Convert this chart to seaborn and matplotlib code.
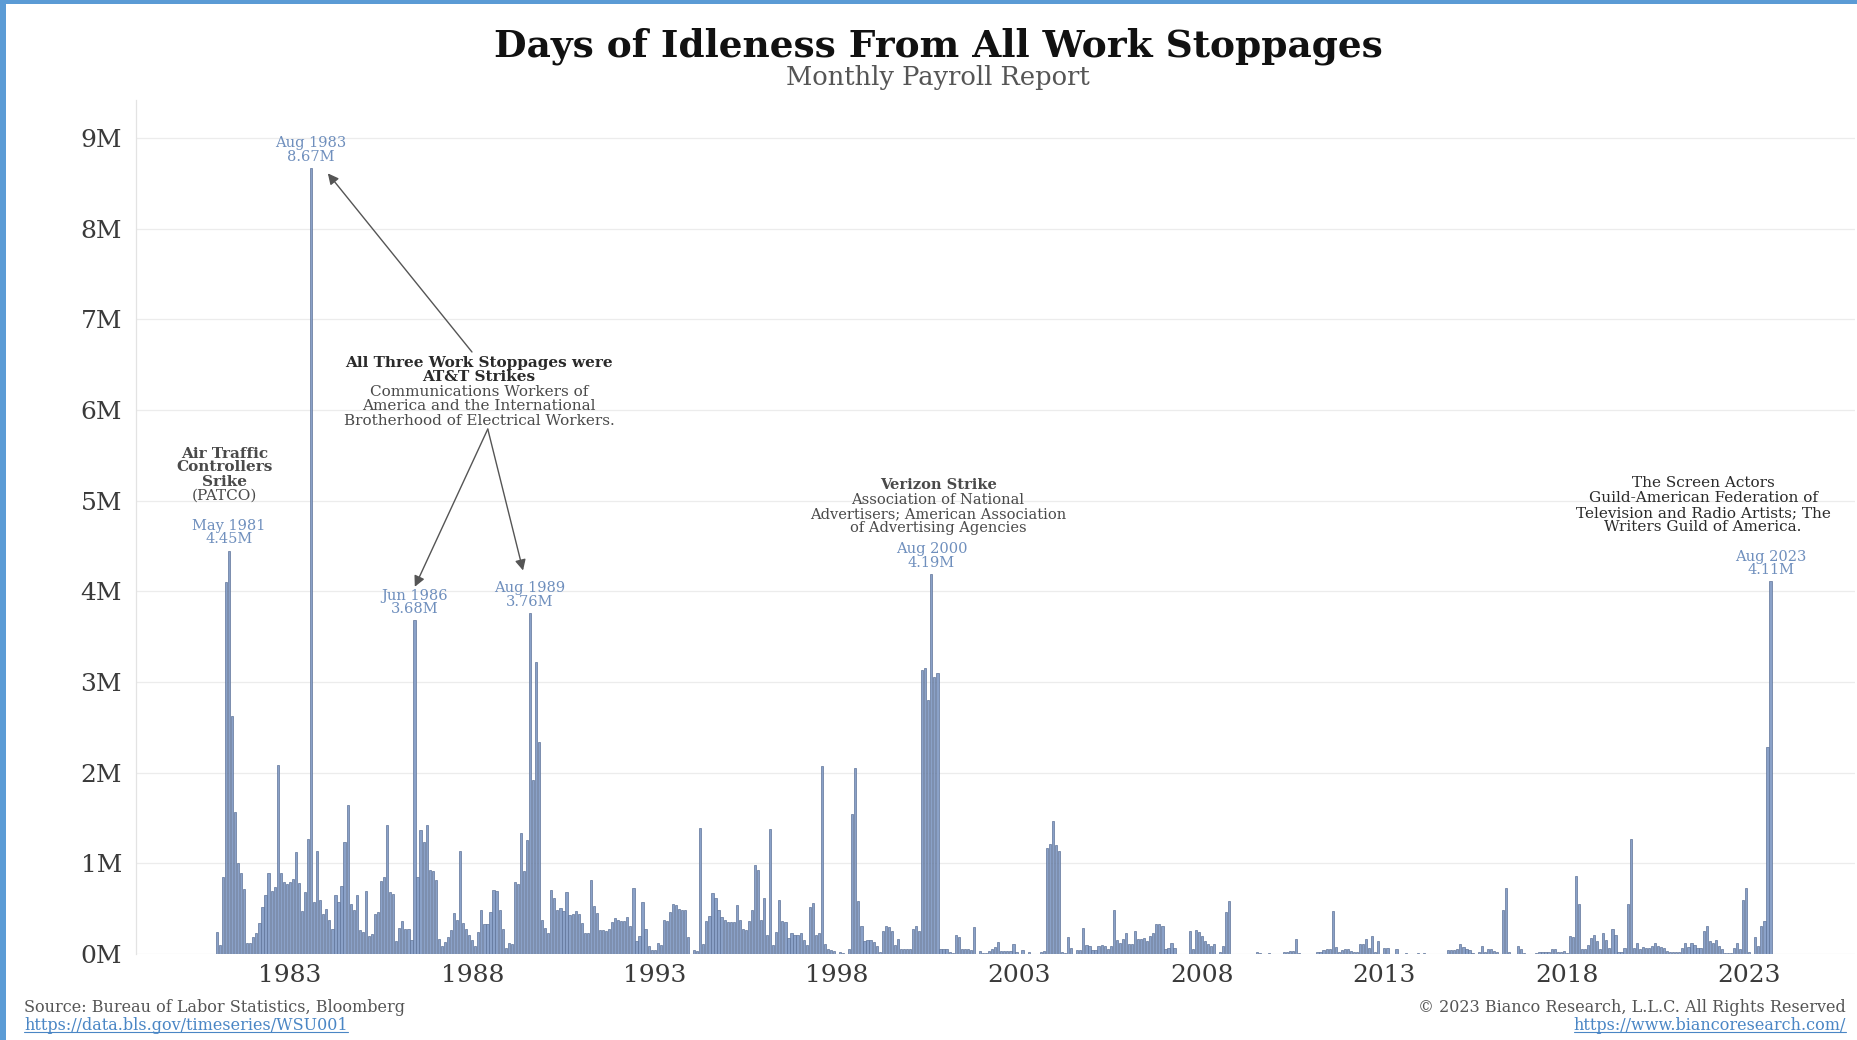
import numpy as np
import pandas as pd
import matplotlib
matplotlib.use("Agg")
import matplotlib.pyplot as plt
from matplotlib.patches import Rectangle
from matplotlib.lines import Line2D
import seaborn as sns

# Days of idleness from all work stoppages, millions of days, monthly from Jan 1981
y1981 = [0.24, 0.10, 0.85, 4.10, 4.45, 2.63, 1.57, 1.00, 0.89, 0.72, 0.12, 0.12]
y1982 = [0.19, 0.23, 0.34, 0.52, 0.65, 0.89, 0.70, 0.74, 2.09, 0.89, 0.79, 0.77]
y1983 = [0.79, 0.83, 1.13, 0.78, 0.47, 0.68, 1.27, 8.67, 0.57, 1.14, 0.60, 0.44]
y1984 = [0.50, 0.37, 0.28, 0.65, 0.57, 0.75, 1.23, 1.64, 0.55, 0.48, 0.65, 0.27]
y1985 = [0.24, 0.69, 0.20, 0.22, 0.44, 0.46, 0.80, 0.85, 1.42, 0.68, 0.66, 0.14]
y1986 = [0.29, 0.36, 0.28, 0.28, 0.15, 3.68, 0.85, 1.37, 1.23, 1.42, 0.93, 0.92]
y1987 = [0.82, 0.17, 0.085, 0.13, 0.19, 0.26, 0.45, 0.37, 1.14, 0.34, 0.28, 0.21]
y1988 = [0.15, 0.09, 0.24, 0.49, 0.33, 0.33, 0.46, 0.71, 0.70, 0.49, 0.28, 0.07]
y1989 = [0.12, 0.11, 0.79, 0.77, 1.33, 0.91, 1.26, 3.76, 1.92, 3.22, 2.34, 0.37]
y1990 = [0.29, 0.23, 0.71, 0.62, 0.49, 0.51, 0.47, 0.68, 0.43, 0.44, 0.47, 0.44]
y1991 = [0.34, 0.23, 0.23, 0.82, 0.53, 0.45, 0.26, 0.26, 0.25, 0.28, 0.35, 0.40]
y1992 = [0.38, 0.36, 0.36, 0.41, 0.31, 0.73, 0.14, 0.20, 0.57, 0.28, 0.09, 0.04]
y1993 = [0.04, 0.12, 0.10, 0.38, 0.36, 0.46, 0.55, 0.54, 0.50, 0.49, 0.49, 0.19]
y1994 = [0.00, 0.04, 0.03, 1.39, 0.11, 0.36, 0.42, 0.67, 0.62, 0.49, 0.41, 0.37]
y1995 = [0.35, 0.35, 0.35, 0.54, 0.38, 0.28, 0.27, 0.36, 0.49, 0.98, 0.93, 0.38]
y1996 = [0.62, 0.21, 1.38, 0.10, 0.24, 0.60, 0.36, 0.35, 0.18, 0.23, 0.21, 0.21]
y1997 = [0.23, 0.15, 0.10, 0.52, 0.56, 0.21, 0.23, 2.07, 0.11, 0.05, 0.04, 0.03]
y1998 = [0.00, 0.02, 0.01, 0.00, 0.06, 1.54, 2.05, 0.58, 0.31, 0.14, 0.15, 0.15]
y1999 = [0.13, 0.09, 0.02, 0.25, 0.31, 0.30, 0.25, 0.10, 0.17, 0.06, 0.05, 0.05]
y2000 = [0.05, 0.28, 0.31, 0.25, 3.13, 3.15, 2.80, 4.19, 3.05, 3.10, 0.06, 0.05]
y2001 = [0.05, 0.02, 0.01, 0.21, 0.19, 0.06, 0.06, 0.06, 0.04, 0.30, 0.00, 0.03]
y2002 = [0.01, 0.01, 0.03, 0.06, 0.08, 0.13, 0.03, 0.03, 0.03, 0.03, 0.11, 0.02]
y2003 = [0.005, 0.04, 0.00, 0.02, 0.00, 0.00, 0.00, 0.02, 0.03, 1.17, 1.21, 1.47]
y2004 = [1.20, 1.14, 0.02, 0.01, 0.19, 0.07, 0.00, 0.04, 0.04, 0.29, 0.10, 0.09]
y2005 = [0.04, 0.04, 0.09, 0.10, 0.09, 0.06, 0.09, 0.49, 0.15, 0.12, 0.16, 0.23]
y2006 = [0.11, 0.11, 0.25, 0.16, 0.16, 0.18, 0.14, 0.20, 0.23, 0.33, 0.33, 0.31]
y2007 = [0.05, 0.07, 0.12, 0.07, 0.00, 0.00, 0.00, 0.00, 0.25, 0.06, 0.26, 0.24]
y2008 = [0.20, 0.14, 0.11, 0.09, 0.11, 0.00, 0.02, 0.09, 0.46, 0.59, 0.00, 0.00]
y2009 = [0.00, 0.00, 0.00, 0.00, 0.00, 0.00, 0.02, 0.01, 0.00, 0.00, 0.01, 0.00]
y2010 = [0.00, 0.00, 0.00, 0.02, 0.02, 0.03, 0.03, 0.17, 0.01, 0.00, 0.00, 0.00]
y2011 = [0.00, 0.00, 0.02, 0.02, 0.04, 0.06, 0.06, 0.47, 0.08, 0.02, 0.04, 0.06]
y2012 = [0.06, 0.03, 0.02, 0.02, 0.11, 0.11, 0.17, 0.07, 0.20, 0.02, 0.14, 0.00]
y2013 = [0.07, 0.07, 0.00, 0.00, 0.05, 0.00, 0.00, 0.01, 0.00, 0.00, 0.00, 0.01]
y2014 = [0.00, 0.01, 0.00, 0.00, 0.00, 0.00, 0.00, 0.00, 0.00, 0.04, 0.04, 0.04]
y2015 = [0.05, 0.11, 0.08, 0.05, 0.04, 0.01, 0.00, 0.02, 0.09, 0.02, 0.06, 0.06]
y2016 = [0.03, 0.02, 0.00, 0.49, 0.73, 0.02, 0.00, 0.00, 0.09, 0.05, 0.01, 0.00]
y2017 = [0.00, 0.00, 0.01, 0.02, 0.02, 0.02, 0.02, 0.06, 0.05, 0.02, 0.02, 0.03]
y2018 = [0.01, 0.20, 0.19, 0.86, 0.55, 0.06, 0.06, 0.10, 0.18, 0.21, 0.14, 0.06]
y2019 = [0.23, 0.15, 0.07, 0.28, 0.21, 0.02, 0.02, 0.07, 0.55, 1.27, 0.07, 0.12]
y2020 = [0.05, 0.08, 0.07, 0.07, 0.09, 0.12, 0.09, 0.08, 0.07, 0.03, 0.02, 0.02]
y2021 = [0.02, 0.02, 0.07, 0.12, 0.08, 0.12, 0.10, 0.07, 0.07, 0.25, 0.31, 0.14]
y2022 = [0.12, 0.15, 0.09, 0.05, 0.01, 0.01, 0.01, 0.07, 0.12, 0.06, 0.60, 0.73]
y2023 = [0.02, 0.00, 0.19, 0.09, 0.31, 0.36, 2.28, 4.11]

years_data = [y1981, y1982, y1983, y1984, y1985, y1986, y1987, y1988, y1989, y1990,
              y1991, y1992, y1993, y1994, y1995, y1996, y1997, y1998, y1999, y2000,
              y2001, y2002, y2003, y2004, y2005, y2006, y2007, y2008, y2009, y2010,
              y2011, y2012, y2013, y2014, y2015, y2016, y2017, y2018, y2019, y2020,
              y2021, y2022, y2023]

START_YEAR = 1981
month_names = ["Jan", "Feb", "Mar", "Apr", "May", "Jun",
               "Jul", "Aug", "Sep", "Oct", "Nov", "Dec"]
tick_years = [1983, 1988, 1993, 1998, 2003, 2008, 2013, 2018, 2023]
ytick_values = [0, 1, 2, 3, 4, 5, 6, 7, 8, 9]

# Peaks that get a date / value label: (year, month)
peaks = [(1981, 5), (1983, 8), (1986, 6), (1989, 8), (2000, 8), (2023, 8)]

values = np.concatenate([np.asarray(v, dtype=float) for v in years_data])
df = pd.DataFrame({"pos": np.arange(len(values)), "idle": values})


def month_pos(year, month):
    return (year - START_YEAR) * 12 + (month - 1)


BAR_FILL = "#8aa1c8"
BAR_EDGE = "#5f7499"
LABEL_BLUE = "#6f8fbd"
DARK = "#2a2a2a"
MID = "#4a4a4a"
FRAME_BLUE = "#5b9bd5"

sns.set_theme(style="white")
plt.rcParams["font.family"] = ["DejaVu Serif"]

fig = plt.figure(figsize=(18.58, 10.40), dpi=100)
fig.patch.set_facecolor("white")
ax = fig.add_axes([0.0732, 0.0827, 0.9252, 0.8212])

sns.barplot(data=df, x="pos", y="idle", native_scale=True, width=0.72,
            color=BAR_FILL, saturation=1, edgecolor=BAR_EDGE, linewidth=0.5,
            errorbar=None, ax=ax)

ax.set_xlim(-26.6, 538.8)
ax.set_ylim(0, 9.42)
ax.set_xticks([month_pos(y, 1) for y in tick_years])
ax.set_xticklabels([str(y) for y in tick_years], fontsize=18, color="#3a3a3a")
ax.set_yticks(ytick_values)
ax.set_yticklabels([f"{v}M" for v in ytick_values], fontsize=18, color="#3a3a3a")
ax.tick_params(axis="both", length=0)
ax.tick_params(axis="x", pad=7)
ax.tick_params(axis="y", pad=10)
ax.set_xlabel("")
ax.set_ylabel("")
ax.yaxis.grid(True, color="#ececec", linewidth=0.9)
ax.xaxis.grid(False)
ax.set_axisbelow(True)
for side in ["top", "right", "bottom"]:
    ax.spines[side].set_visible(False)
ax.spines["left"].set_color("#e3e3e3")
ax.spines["left"].set_linewidth(0.9)

# Date / value labels above the peaks
for yr, mo in peaks:
    i = month_pos(yr, mo)
    v = values[i]
    ax.annotate(f"{month_names[mo - 1]} {yr}\n{v:.2f}M", xy=(i, v),
                xytext=(0, 3), textcoords="offset points", ha="center",
                va="bottom", fontsize=10.5, color=LABEL_BLUE, linespacing=0.95)


def text_stack(x, ys, lines, weights, colors, size=11):
    for y, line, w, c in zip(ys, lines, weights, colors):
        ax.text(x, y, line, ha="center", va="center", fontsize=size,
                fontweight=w, color=c)


# Air traffic controllers
text_stack(2.6, [5.52, 5.37, 5.21, 5.06],
           ["Air Traffic", "Controllers", "Srike", "(PATCO)"],
           ["bold", "bold", "bold", "normal"], [MID, MID, MID, MID])

# AT&T strikes
text_stack(86.2, [6.52, 6.36, 6.20, 6.04, 5.88],
           ["All Three Work Stoppages were", "AT&T Strikes",
            "Communications Workers of", "America and the International",
            "Brotherhood of Electrical Workers."],
           ["bold", "bold", "normal", "normal", "normal"],
           [DARK, DARK, MID, MID, MID])

# Verizon
text_stack(237.2, [5.17, 5.01, 4.85, 4.70],
           ["Verizon Strike", "Association of National",
            "Advertisers; American Association", "of Advertising Agencies"],
           ["bold", "normal", "normal", "normal"], [MID, MID, MID, MID],
           size=10.5)

# Screen actors / writers
text_stack(488.8, [5.19, 5.03, 4.86, 4.71],
           ["The Screen Actors", "Guild-American Federation of",
            "Television and Radio Artists; The", "Writers Guild of America."],
           ["normal", "normal", "normal", "normal"], [DARK, DARK, DARK, DARK],
           size=11)

arrow_kw = dict(arrowstyle="-|>", color="#555555", lw=1.0, mutation_scale=16,
                shrinkA=0, shrinkB=0)
ax.annotate("", xy=(36.5, 8.61), xytext=(83.9, 6.64), arrowprops=arrow_kw)
ax.annotate("", xy=(65.1, 4.05), xytext=(89.1, 5.79), arrowprops=arrow_kw)
ax.annotate("", xy=(100.7, 4.23), xytext=(89.1, 5.79), arrowprops=arrow_kw)

# Titles
fig.text(0.505, 1 - 46 / 1040, "Days of Idleness From All Work Stoppages",
         ha="center", va="center", fontsize=27, fontweight="bold", color="#111111")
fig.text(0.505, 1 - 77 / 1040, "Monthly Payroll Report",
         ha="center", va="center", fontsize=18.5, color="#555555")

# Footer
LINK = "#4a86c5"
fig.text(24 / 1858, 1 - 1008 / 1040, "Source: Bureau of Labor Statistics, Bloomberg",
         ha="left", va="center", fontsize=11.5, color="#555555")
link_l = fig.text(24 / 1858, 1 - 1025 / 1040, "https://data.bls.gov/timeseries/WSU001",
                  ha="left", va="center", fontsize=11.5, color=LINK)
fig.text(1846 / 1858, 1 - 1008 / 1040, "\u00a9 2023 Bianco Research, L.L.C. All Rights Reserved",
         ha="right", va="center", fontsize=11.5, color="#555555")
link_r = fig.text(1846 / 1858, 1 - 1025 / 1040, "https://www.biancoresearch.com/",
                  ha="right", va="center", fontsize=11.5, color=LINK)

fig.canvas.draw()
renderer = fig.canvas.get_renderer()
inv = fig.transFigure.inverted()
for t in (link_l, link_r):
    bb = t.get_window_extent(renderer)
    (x0, y0), (x1, _) = inv.transform([(bb.x0, bb.y0), (bb.x1, bb.y1)])
    fig.add_artist(Line2D([x0, x1], [y0 + 0.001, y0 + 0.001], transform=fig.transFigure,
                          color=LINK, linewidth=0.8))

# Page frame
fig.add_artist(Rectangle((0, 1 - 4 / 1040), 1, 4 / 1040, transform=fig.transFigure,
                         facecolor=FRAME_BLUE, edgecolor="none"))
fig.add_artist(Rectangle((0, 0), 6 / 1858, 1, transform=fig.transFigure,
                         facecolor=FRAME_BLUE, edgecolor="none"))

fig.savefig("out.png", dpi=100, facecolor="white")
